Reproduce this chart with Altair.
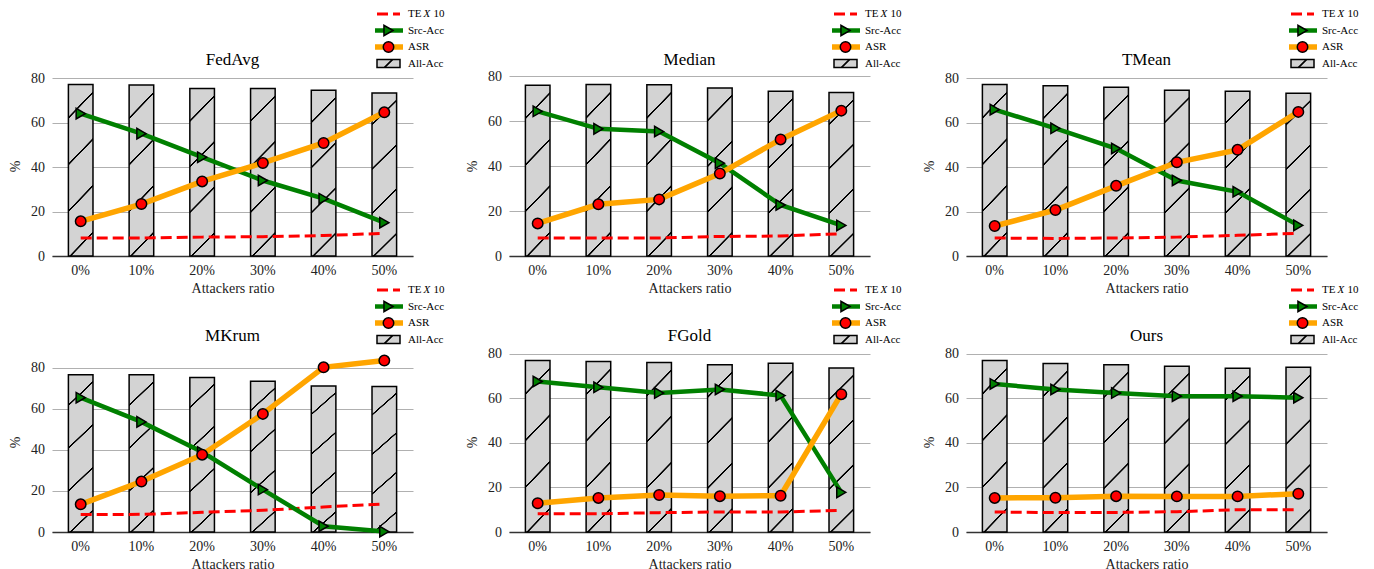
import altair as alt
import pandas as pd

methods = ["FedAvg", "Median", "TMean", "MKrum", "FGold", "Ours"]
ratios = ["0%", "10%", "20%", "30%", "40%", "50%"]

all_acc = {
    "FedAvg": [77.2, 77.0, 75.4, 75.4, 74.6, 73.4],
    "Median": [76.0, 76.3, 76.2, 74.8, 73.3, 72.8],
    "TMean": [77.2, 76.7, 76.0, 74.6, 74.2, 73.3],
    "MKrum": [76.7, 76.7, 75.4, 73.5, 71.2, 70.9],
    "FGold": [77.0, 76.6, 76.1, 75.1, 75.8, 73.7],
    "Ours": [77.0, 75.7, 75.1, 74.5, 73.6, 74.0],
}
src_acc = {
    "FedAvg": [64.1, 55.1, 44.5, 34.0, 25.8, 15.0],
    "Median": [64.4, 56.6, 55.4, 41.3, 22.7, 13.6],
    "TMean": [65.9, 57.5, 48.4, 34.0, 28.9, 13.8],
    "MKrum": [65.5, 53.7, 39.0, 20.7, 2.8, 0.2],
    "FGold": [67.6, 65.0, 62.4, 64.0, 61.3, 17.8],
    "Ours": [66.5, 64.0, 62.4, 61.0, 61.0, 60.3],
}
asr = {
    "FedAvg": [15.6, 23.4, 33.6, 41.9, 50.9, 64.7],
    "Median": [14.5, 23.0, 25.2, 36.7, 51.9, 64.7],
    "TMean": [13.5, 20.7, 31.6, 42.2, 47.8, 64.9],
    "MKrum": [13.5, 24.6, 37.7, 57.6, 80.3, 83.6],
    "FGold": [12.9, 15.3, 16.6, 16.1, 16.3, 61.9],
    "Ours": [15.3, 15.4, 16.1, 16.0, 16.0, 17.2],
}
te_x10 = {
    "FedAvg": [8.1, 8.1, 8.5, 8.7, 9.2, 10.2],
    "Median": [8.0, 8.0, 8.0, 8.7, 8.9, 9.9],
    "TMean": [8.1, 7.9, 8.1, 8.5, 9.3, 10.2],
    "MKrum": [8.5, 8.6, 9.6, 10.6, 12.2, 13.7],
    "FGold": [8.2, 8.2, 8.7, 9.0, 9.0, 9.7],
    "Ours": [9.0, 8.7, 8.8, 9.1, 10.0, 10.0],
}

GRAY = "#d3d3d3"
SERIF = "Liberation Serif"
W, H = 361, 180


def stripes(x2, y2, centers, hw, ramp):
    stops = [{"offset": 0, "color": GRAY}]
    for c in sorted(centers):
        stops += [
            {"offset": max(c - hw - ramp, 0.0001), "color": GRAY},
            {"offset": max(c - hw, 0.0002), "color": "black"},
            {"offset": min(c + hw, 0.9998), "color": "black"},
            {"offset": min(c + hw + ramp, 0.9999), "color": GRAY},
        ]
    stops.append({"offset": 1, "color": GRAY})
    return {"gradient": "linear", "x1": 0, "y1": 0, "x2": x2, "y2": y2, "stops": stops}


# hatch for bars ("/" at ~45 degrees)
P = 0.237
bar_centers = []
c = 0.88
while c > 0.01:
    bar_centers.append(c)
    c -= P
bar_grad = stripes(0.1675, 1.124, bar_centers, 0.004, 0.003)
leg_grad = stripes(1.2025, 0.4185, [0.5], 0.028, 0.015)


def panel(m):
    df = pd.DataFrame({
        "ratio": ratios,
        "all_acc": all_acc[m],
        "src": src_acc[m],
        "asr": asr[m],
        "te": te_x10[m],
    })
    ymax = 1.05 * max(max(all_acc[m]), max(src_acc[m]), max(asr[m]), max(te_x10[m]))
    ysc = alt.Scale(domain=[0, ymax], nice=False, zero=True)
    xsc = alt.Scale(paddingInner=0.595, paddingOuter=0.27)
    xax = alt.Axis(title="Attackers ratio", labelFont=SERIF, titleFont=SERIF)
    yax = alt.Axis(values=[0, 20, 40, 60, 80], title="%", labelFont=SERIF, titleFont=SERIF)

    def X():
        return alt.X("ratio:N", sort=ratios, scale=xsc, axis=xax)

    def Y(f):
        return alt.Y(f + ":Q", scale=ysc, axis=yax)

    base = alt.Chart(df)
    bars = base.mark_bar(fill=bar_grad, stroke="black", strokeWidth=1.5).encode(x=X(), y=Y("all_acc"))
    te_line = base.mark_line(color="#ff0000", strokeWidth=3, strokeDash=[11, 5]).encode(x=X(), y=Y("te"))
    src_line = base.mark_line(color="#008000", strokeWidth=4.5).encode(x=X(), y=Y("src"))
    src_pts = base.mark_point(shape="triangle-right", filled=True, fill="#008000", stroke="black",
                              strokeWidth=1.5, size=110, opacity=1).encode(x=X(), y=Y("src"))
    asr_line = base.mark_line(color="#ffa500", strokeWidth=5.5).encode(x=X(), y=Y("asr"))
    asr_pts = base.mark_point(shape="circle", filled=True, fill="#ff0000", stroke="black",
                              strokeWidth=1.5, size=110, opacity=1).encode(x=X(), y=Y("asr"))

    # title and legend drawn as marks (top of each panel)
    leg = alt.Chart(alt.Data(values=[{"k": 0}]))
    title = leg.mark_text(font=SERIF, fontSize=17, align="center", baseline="middle", color="black").encode(
        x=alt.value(W / 2), y=alt.value(-16), text=alt.value(m))
    lx0, lx1, lxm, ltx = 325, 348, 336.5, 356
    r1, r2, r3, r4 = -62, -45.5, -29, -12.5
    tk = dict(font=SERIF, fontSize=11, align="left", baseline="middle", color="black")
    l_te = leg.mark_rule(color="#ff0000", strokeWidth=3, strokeDash=[11, 5]).encode(
        x=alt.value(lx0), x2=alt.value(lx1), y=alt.value(r1))
    l_te_t1 = leg.mark_text(**tk).encode(x=alt.value(ltx), y=alt.value(r1), text=alt.value("TE"))
    l_te_t2 = leg.mark_text(fontStyle="italic", **tk).encode(
        x=alt.value(ltx + 15.5), y=alt.value(r1), text=alt.value("X"))
    l_te_t3 = leg.mark_text(**tk).encode(x=alt.value(ltx + 25.5), y=alt.value(r1), text=alt.value("10"))
    l_src = leg.mark_rule(color="#008000", strokeWidth=4.5).encode(
        x=alt.value(lx0 - 2), x2=alt.value(lx1 + 3), y=alt.value(r2))
    l_src_p = leg.mark_point(shape="triangle-right", filled=True, fill="#008000", stroke="black",
                             strokeWidth=1.5, size=110, opacity=1).encode(
        x=alt.value(lxm), y=alt.value(r2))
    l_src_t = leg.mark_text(**tk).encode(x=alt.value(ltx), y=alt.value(r2), text=alt.value("Src-Acc"))
    l_asr = leg.mark_rule(color="#ffa500", strokeWidth=5.5).encode(
        x=alt.value(lx0 - 2), x2=alt.value(lx1 + 3), y=alt.value(r3))
    l_asr_p = leg.mark_point(shape="circle", filled=True, fill="#ff0000", stroke="black",
                             strokeWidth=1.5, size=110, opacity=1).encode(
        x=alt.value(lxm), y=alt.value(r3))
    l_asr_t = leg.mark_text(**tk).encode(x=alt.value(ltx), y=alt.value(r3), text=alt.value("ASR"))
    l_all = leg.mark_rect(fill=leg_grad, stroke="black", strokeWidth=1.5).encode(
        x=alt.value(lx0), x2=alt.value(lx1), y=alt.value(r4 - 4), y2=alt.value(r4 + 4))
    l_all_t = leg.mark_text(**tk).encode(x=alt.value(ltx), y=alt.value(r4), text=alt.value("All-Acc"))

    return alt.layer(
        bars, te_line, src_line, src_pts, asr_line, asr_pts, title,
        l_te, l_te_t1, l_te_t2, l_te_t3, l_src, l_src_p, l_src_t,
        l_asr, l_asr_p, l_asr_t, l_all, l_all_t,
    ).properties(width=W, height=H)


chart = alt.concat(
    *[panel(m) for m in methods], columns=3, spacing=96, bounds="flush"
).properties(
    padding={"left": 0, "top": 0, "right": 5, "bottom": 0}
).configure_view(
    stroke=None
).configure_axis(
    labelFont=SERIF, titleFont=SERIF, labelFontSize=14, titleFontSize=14,
    titleFontWeight="normal", labelColor="#222", titleColor="#222",
).configure_axisX(
    domainColor="#333", domainWidth=1.5, ticks=False, tickSize=0, labelAngle=0,
    labelPadding=7, titlePadding=4, grid=False,
).configure_axisY(
    domain=False, ticks=False, tickSize=0, grid=True, gridColor="#b0b0b0", gridWidth=1,
    labelPadding=7.5, titlePadding=8.5,
)

chart.save("out.html", embed_options={"renderer": "svg", "actions": False})
